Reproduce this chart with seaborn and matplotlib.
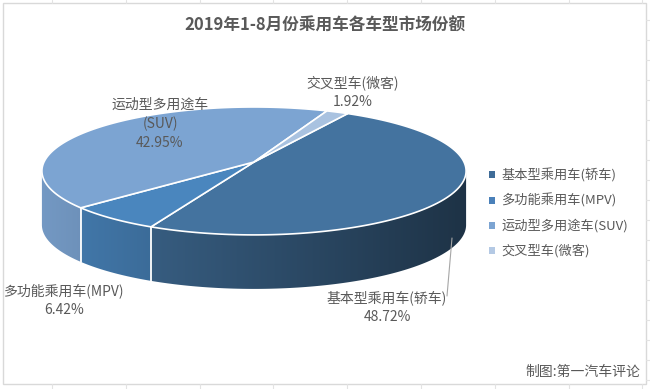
import numpy as np
import matplotlib
matplotlib.use("Agg")
import matplotlib.pyplot as plt
from matplotlib.patches import Polygon, Rectangle, Patch
from matplotlib.colors import to_rgb
import seaborn as sns

# ------------------------------------------------------------
# DATA
# ------------------------------------------------------------
title = "2019年1-8月份乘用车各车型市场份额"
credit = "制图:第一汽车评论"
categories = ["基本型乘用车(轿车)", "多功能乘用车(MPV)", "运动型多用途车(SUV)", "交叉型车(微客)"]
shares = [48.72, 6.42, 42.95, 1.92]
label_names = ["基本型乘用车(轿车)", "多功能乘用车(MPV)", "运动型多用途车\n(SUV)", "交叉型车(微客)"]

top_colors = ["#44739F", "#4A86BE", "#7CA4D2", "#A9C2E0"]
legend_colors = ["#3F6C98", "#4A80B9", "#7CA4D2", "#B4C9E4"]

# ------------------------------------------------------------
# STYLE / LAYOUT (pixel coords, y down)
# ------------------------------------------------------------
sns.set_theme(style="white")
plt.rcParams["font.family"] = ["Noto Sans CJK SC", "DejaVu Sans"]
TXT = "#595959"

CX, CY = 254, 162          # pie apex
A, B, K = 210, 62.7, 0.14  # ellipse radii + perspective
DEPTH = 54
START = 60.0               # first slice angle (deg), clockwise
label_pos = [(387, 307), (64, 300), (160, 124), (353, 92)]

fig = plt.figure(figsize=(6.5, 3.89), dpi=100)
ax = fig.add_axes([0, 0, 1, 1])
ax.set_xlim(0, 650)
ax.set_ylim(389, 0)
ax.axis("off")

# excel grid + chart border
for gx in np.arange(52, 650, 73.8):
    ax.plot([gx, gx], [0, 3], color="#E3E3E3", lw=0.8)
    ax.plot([gx, gx], [384, 389], color="#E3E3E3", lw=0.8)
for gy in np.arange(20, 389, 20):
    ax.plot([646, 650], [gy, gy], color="#E3E3E3", lw=0.8)
ax.add_patch(Rectangle((2.5, 3), 643, 381, fill=False, edgecolor="#D9D9D9", lw=1))


def rim(theta_deg):
    t = np.radians(theta_deg)
    w = 1 + K * np.sin(t)
    return CX + A * np.cos(t) / w, CY - B * np.sin(t) / w


fracs = np.array(shares) / np.sum(shares)
cum = np.concatenate([[0], np.cumsum(fracs)])

# ------------------------------------------------------------
# SIDE WALL (visible front part, horizontal gradient)
# ------------------------------------------------------------
lim = np.degrees(np.arcsin(K))
lo, hi = 180 + lim, 360 - lim
xgrid = np.linspace(0, 650, 651)
fac = np.clip(0.93 - 0.49 * (xgrid - 42) / 424, 0, 1)

for i in range(len(shares)):
    a_end = (START - cum[i] * 360) % 360
    a_beg = a_end - fracs[i] * 360
    segs = []
    for off in (-360, 0, 360):
        s0, s1 = max(a_beg + off, lo), min(a_end + off, hi)
        if s1 > s0:
            segs.append((s0, s1))
    for s0, s1 in segs:
        ts = np.linspace(s0, s1, 200)
        xs, ys = rim(ts)
        pts = list(zip(xs, ys)) + list(zip(xs[::-1], ys[::-1] + DEPTH))
        clip = Polygon(pts, closed=True, facecolor="none", edgecolor="none")
        ax.add_patch(clip)
        grad = np.array(to_rgb(top_colors[i]))[None, None, :] * fac[None, :, None]
        im = ax.imshow(grad, extent=(0, 650, 389, 0), aspect="auto",
                       interpolation="bilinear", zorder=1)
        im.set_clip_path(clip)

# white separators on the side
for c in cum:
    t = (START - c * 360) % 360
    if lo < t < hi:
        x, y = rim(t)
        ax.plot([x, x], [y, y + DEPTH], color="white", lw=1.3, zorder=2)

ax.set_xlim(0, 650)
ax.set_ylim(389, 0)

# ------------------------------------------------------------
# TOP FACES
# ------------------------------------------------------------
for i in range(len(shares)):
    a0 = START - cum[i] * 360
    a1 = START - cum[i + 1] * 360
    ts = np.linspace(a0, a1, 200)
    xs, ys = rim(ts)
    pts = [(CX, CY)] + list(zip(xs, ys))
    ax.add_patch(Polygon(pts, closed=True, facecolor=top_colors[i],
                         edgecolor="white", lw=1.2, joinstyle="round", zorder=3))

# ------------------------------------------------------------
# LABELS
# ------------------------------------------------------------
for name, s, (lx, ly) in zip(label_names, shares, label_pos):
    ax.text(lx, ly, f"{name}\n{s:.2f}%", ha="center", va="center",
            fontsize=10, color=TXT, linespacing=1.45, zorder=4)

# leader line for sedan
ax.plot([452, 447], [238, 296], color="#A6A6A6", lw=0.8, zorder=4)

ax.text(325, 26, title, ha="center", va="center", fontsize=12,
        fontweight="bold", color=TXT)
ax.text(640, 372, credit, ha="right", va="center", fontsize=10, color=TXT)

handles = [Patch(facecolor=c, edgecolor="none") for c in legend_colors]
leg = ax.legend(handles, categories, loc="center left",
                bbox_to_anchor=(484 / 650, 1 - 213 / 389), frameon=False,
                fontsize=9.5, handlelength=0.45, handleheight=0.45,
                handletextpad=0.45, labelspacing=0.85, borderaxespad=0)
for t in leg.get_texts():
    t.set_color(TXT)

fig.savefig("out.png", dpi=100, facecolor="white")
